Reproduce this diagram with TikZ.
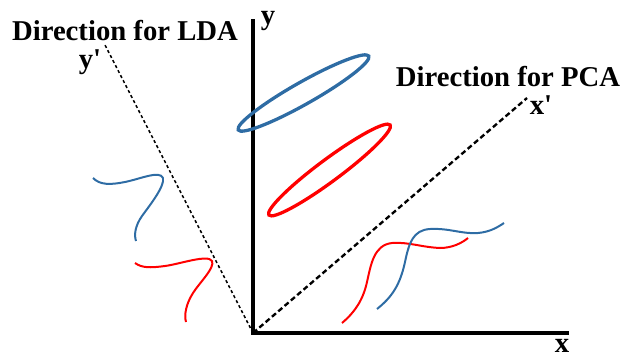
\documentclass[tikz,border=0pt]{standalone}
\usepackage{fontspec}
\setmainfont{Liberation Serif}
\definecolor{ldablue}{RGB}{46,108,164}
\definecolor{ldared}{RGB}{255,0,0}
\tikzset{
  axis/.style={line width=2.6pt},
  ldaline/.style={line width=1.3pt, dash pattern=on 2.6pt off 2.2pt},
  pcaline/.style={line width=2pt, dash pattern=on 4.5pt off 2.6pt},
  cls/.style={line width=2.8pt},
  proj/.style={line width=1.7pt},
  lbl/.style={font=\bfseries\fontsize{24.5}{27}\selectfont, inner sep=0pt}
}
\begin{document}
\begin{tikzpicture}[x=0.03cm, y=-0.03cm]
\useasboundingbox (0,0) rectangle (621,358);
% axes
\coordinate (O) at (253,333);
\coordinate (ytop) at (253,19);
\coordinate (xend) at (569,333);
\draw[axis] (ytop) -- (O) -- (xend);
\node[lbl] (ylab) at (268,21) {y};
\node[lbl] (xlab) at (562,346) {x};
% projection directions
\coordinate (ldaend) at (105,45);
\coordinate (pcaend) at (527,98);
\draw[ldaline] (O) -- (ldaend);
\draw[pcaline] (O) -- (pcaend);
\node[lbl] (ldatxt) at (125,31) {Direction for LDA};
\node[lbl] (pcatxt) at (508,77) {Direction for PCA};
\node[lbl] (yplab) at (90,62) {y\textquotesingle};
\node[lbl] (xplab) at (541,105) {x\textquotesingle};
% the two classes
\draw[cls, ldablue] (303.5,93) ellipse [x radius=75, y radius=11, rotate=29.5];
\draw[cls, ldared] (329.5,170) ellipse [x radius=75.5, y radius=11, rotate=36.6];
% projected on y'
\draw[proj, ldablue] (93,178) .. controls (100,185) and (110,185) .. (125,182)
  .. controls (140,179) and (160,170) .. (163,178)
  .. controls (165,186) and (150,205) .. (142,216)
  .. controls (135,226) and (134,235) .. (136,241);
\draw[proj, ldared] (135,263) .. controls (142,268) and (150,268) .. (165,266)
  .. controls (180,264) and (208,254) .. (212,261)
  .. controls (215,268) and (200,282) .. (193,293)
  .. controls (186,304) and (184,315) .. (186,322);
% projected on x'
\draw[proj, ldared] (342,323) .. controls (355,312) and (363,300) .. (367,282)
  .. controls (371,264) and (374,245) .. (392,243)
  .. controls (410,242) and (420,247) .. (440,248)
  .. controls (452,248) and (462,243) .. (468,238);
\draw[proj, ldablue] (377,309) .. controls (392,297) and (400,285) .. (405,262)
  .. controls (409,243) and (413,230) .. (430,229)
  .. controls (450,228) and (460,234) .. (478,233)
  .. controls (490,232) and (498,227) .. (504,223);
\end{tikzpicture}
\end{document}
